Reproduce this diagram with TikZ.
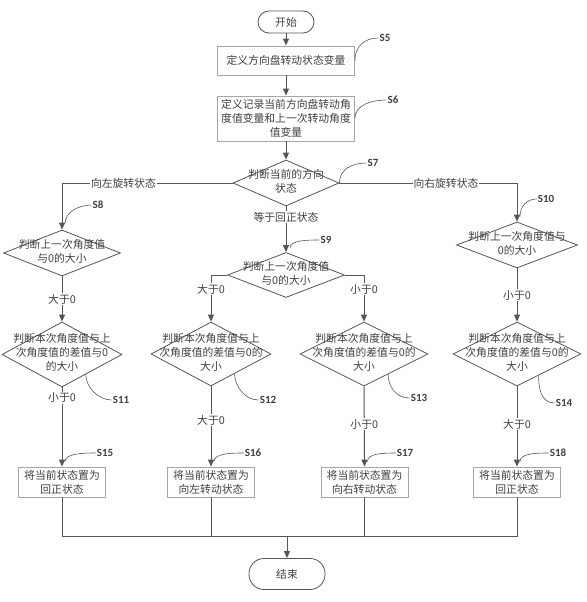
\documentclass[tikz,border=0pt]{standalone}
\usepackage{fontspec}
\setmainfont{Noto Sans CJK SC}
\newfontfamily\stepfont{Carlito}
\usepackage{xcolor}
\usepackage{tikz}
\usetikzlibrary{positioning, arrows.meta, shapes.geometric}

\definecolor{linegray}{HTML}{555555}
\definecolor{boxgray}{HTML}{A6A6A6}
\definecolor{txtgray}{HTML}{404040}
\newcommand\dtxt[1]{\smash{\makebox[0pt]{\raisebox{-0.22em}{\begin{tabular}{@{}c@{}}#1\end{tabular}}}}}

\begin{document}
\begin{tikzpicture}[
    x=1pt, y=-1pt,
    >={Triangle[length=7pt,width=6pt]},
    base/.style={font=\fontsize{10.8}{14}\selectfont, text=txtgray, inner sep=0pt},
    term/.style={base, draw=linegray, line width=0.8pt, rounded corners=11pt, minimum width=56pt, minimum height=22pt},
    proc/.style={base, draw=boxgray, line width=0.8pt, align=center, minimum width=137pt, minimum height=29pt},
    decide/.style={base, diamond, draw=linegray, line width=0.8pt, minimum width=120pt, minimum height=64pt},
    cond/.style={base, fill=white, inner sep=1pt},
    steplab/.style={font=\stepfont\bfseries\fontsize{11}{13}\selectfont, text=txtgray, inner sep=1pt},
    flow/.style={draw=linegray, line width=1pt},
    leader/.style={draw=linegray, line width=0.6pt}
]
\useasboundingbox (0,0) rectangle (586,602);

\node[term] (start) at (286,22) {开始};
\node[proc] (s5) at (286,60.5) {定义方向盘转动状态变量};
\node[proc, minimum height=45pt] (s6) at (286,118.5) {定义记录当前方向盘转动角\\度值变量和上一次转动角度\\值变量};
\node[decide, minimum width=106pt, minimum height=46pt] (s7) at (286,183) {\dtxt{判断当前的方向\\状态}};
\node[decide, minimum width=117pt, minimum height=46pt] (s8) at (62,253) {\dtxt{判断上一次角度值\\与0的大小}};
\node[decide, minimum width=117pt, minimum height=45pt] (s9) at (286,275) {\dtxt{判断上一次角度值\\与0的大小}};
\node[decide, minimum width=121pt, minimum height=46pt] (s10) at (517,245) {\dtxt{判断上一次角度值与\\0的大小}};
\node[decide, minimum height=65pt] (s11) at (62,354.5) {\dtxt{判断本次角度值与上\\次角度值的差值与0\\的大小}};
\node[decide] (s12) at (211,354) {\dtxt{判断本次角度值与上\\次角度值的差值与0的\\大小}};
\node[decide, minimum width=128pt] (s13) at (364,354) {\dtxt{判断本次角度值与上\\次角度值的差值与0的\\大小}};
\node[decide, minimum width=128pt] (s14) at (517,354) {\dtxt{判断本次角度值与上\\次角度值的差值与0的\\大小}};
\node[proc, minimum width=87pt, minimum height=30pt] (s15) at (62,482) {将当前状态置为\\回正状态};
\node[proc, minimum width=87pt, minimum height=30pt] (s16) at (211,482) {将当前状态置为\\向左转动状态};
\node[proc, minimum width=87pt, minimum height=30pt] (s17) at (364.5,482) {将当前状态置为\\向右转动状态};
\node[proc, minimum width=87pt, minimum height=30pt] (s18) at (517,482) {将当前状态置为\\回正状态};
\node[term, minimum width=76pt, minimum height=31pt, rounded corners=15pt] (end) at (287,574) {结束};
\coordinate (join) at (287,536);

\node[steplab] (l5) at (385,38) {S5};
\node[steplab] (l6) at (393,100) {S6};
\node[steplab] (l7) at (373,163) {S7};
\node[steplab] (l8) at (98,205) {S8};
\node[steplab] (l9) at (326,240) {S9};
\node[steplab] (l10) at (546,199) {S10};
\node[steplab] (l11) at (121,400) {S11};
\node[steplab] (l12) at (268,400) {S12};
\node[steplab] (l13) at (419,398) {S13};
\node[steplab] (l14) at (564,403) {S14};
\node[steplab] (l15) at (105,453) {S15};
\node[steplab] (l16) at (253,453) {S16};
\node[steplab] (l17) at (405,453) {S17};
\node[steplab] (l18) at (558,453) {S18};

\draw[flow,->] (start) -- (s5);
\draw[flow,->] (s5) -- (s6);
\draw[flow,->] (s6) -- (s7);
\draw[flow,->] (s7.west) -| node[cond,pos=0.32] {向左旋转状态} (s8.north);
\draw[flow,->] (s7.east) -| node[cond,pos=0.30] {向右旋转状态} (s10.north);
\draw[flow,->] (s7) -- node[cond,pos=0.24] {等于回正状态} (s9);
\draw[flow,->] (s9.west) -| node[cond,pos=0.65] {大于0} (s12.north);
\draw[flow,->] (s9.east) -| node[cond,pos=0.65] {小于0} (s13.north);
\draw[flow,->] (s8) -- node[cond] {大于0} (s11);
\draw[flow,->] (s10) -- node[cond] {小于0} (s14);
\draw[flow,->] (s11) -- node[cond,pos=0.13] {小于0} (s15);
\draw[flow,->] (s12) -- node[cond,pos=0.42] {大于0} (s16);
\draw[flow,->] (s13) -- node[cond,pos=0.47] {小于0} (s17);
\draw[flow,->] (s14) -- node[cond,pos=0.47] {大于0} (s18);
\draw[flow] (s15) -- (s15 |- join) -- (s18 |- join) -- (s18);
\draw[flow] (s16) -- (s16 |- join);
\draw[flow] (s17) -- (s17 |- join);
\draw[flow,->] (join) -- (end);

\draw[leader] (l5.west) .. controls +(-14,0) and +(0,-14) .. (s5.east);
\draw[leader] (l6.west) .. controls +(-14,0) and +(0,-14) .. (s6.east);
\draw[leader] (l7.west) .. controls +(-14,0) and +(0,-14) .. (s7.east);
\draw[leader] (l8.west) .. controls +(-12,0) and +(0,-12) .. ([shift={(3,-6)}]s8.north);
\draw[leader] (l9.west) .. controls +(-12,0) and +(0,-8) .. ([shift={(4,-4)}]s9.north);
\draw[leader] (l10.west) .. controls +(-10,0) and +(0,-10) .. ([shift={(3,-5)}]s10.north);
\draw[leader] (l11.west) .. controls +(-14,0) and +(0,12) .. (s11.-40);
\draw[leader] (l12.west) .. controls +(-14,0) and +(0,12) .. (s12.-40);
\draw[leader] (l13.west) .. controls +(-14,0) and +(0,12) .. (s13.-40);
\draw[leader] (l14.west) .. controls +(-14,0) and +(0,12) .. (s14.-45);
\draw[leader] (l15.west) .. controls +(-14,0) and +(0,-8) .. ([shift={(3,-5)}]s15.north);
\draw[leader] (l16.west) .. controls +(-14,0) and +(0,-8) .. ([shift={(3,-5)}]s16.north);
\draw[leader] (l17.west) .. controls +(-14,0) and +(0,-8) .. ([shift={(3,-5)}]s17.north);
\draw[leader] (l18.west) .. controls +(-14,0) and +(0,-8) .. ([shift={(3,-5)}]s18.north);
\end{tikzpicture}
\end{document}
